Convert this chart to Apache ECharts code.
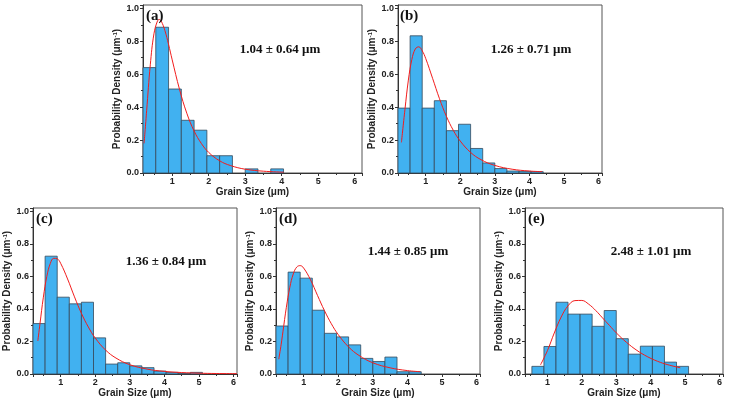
<!DOCTYPE html>
<html>
<head>
<meta charset="utf-8">
<script src="https://cdn.jsdelivr.net/npm/echarts@6/dist/echarts.min.js"></script>
<style>
  html, body { margin: 0; padding: 0; background: #fff; }
  #chart { width: 734px; height: 402px; }
</style>
</head>
<body>
<div id="chart"></div>
<script>
// histogram bins: width and first left edge of each panel (μm)
const binWidth = 0.35
const binStarts = [0.2, 0.2, 0.2, 0.2, 0.55]

// probability density of each bin
const densityA = [0.64, 0.885, 0.51, 0.32, 0.26, 0.105, 0.105, 0, 0.025, 0, 0.025]
const densityB = [0.394, 0.833, 0.394, 0.439, 0.257, 0.296, 0.149, 0.061, 0.027, 0.012, 0.01, 0.008]
const densityC = [0.31, 0.724, 0.472, 0.431, 0.441, 0.222, 0.061, 0.069, 0.05, 0.039, 0.018, 0.01, 0.004, 0.01]
const densityD = [0.295, 0.626, 0.589, 0.392, 0.25, 0.228, 0.179, 0.096, 0.077, 0.104, 0.014, 0.014]
const densityE = [0.047, 0.169, 0.441, 0.368, 0.368, 0.293, 0.39, 0.217, 0.122, 0.171, 0.171, 0.073, 0.047]

// fitted curves
const fitXA = [0.23, 0.3, 0.4, 0.5, 0.6, 0.65, 0.7, 0.8, 0.9, 1.0, 1.2, 1.4, 1.6, 1.8, 2.0, 2.3, 2.6, 3.0, 3.5, 4.05]
const fitYA = [0.18, 0.378, 0.657, 0.845, 0.925, 0.932, 0.922, 0.865, 0.781, 0.687, 0.508, 0.363, 0.255, 0.179, 0.125, 0.074, 0.045, 0.023, 0.011, 0.005]
const fitXB = [0.3, 0.4, 0.5, 0.6, 0.7, 0.8, 0.9, 1.0, 1.2, 1.4, 1.6, 1.8, 2.0, 2.3, 2.6, 3.0, 3.5, 4.0, 4.37]
const fitYB = [0.186, 0.384, 0.564, 0.689, 0.753, 0.766, 0.742, 0.696, 0.575, 0.451, 0.344, 0.259, 0.194, 0.125, 0.081, 0.046, 0.023, 0.012, 0.008]
const fitXC = [0.34, 0.4, 0.5, 0.6, 0.7, 0.8, 0.9, 1.0, 1.2, 1.4, 1.6, 1.8, 2.0, 2.3, 2.6, 3.0, 3.5, 4.0, 4.5, 5.0, 5.5, 6.1]
const fitYC = [0.203, 0.306, 0.472, 0.6, 0.679, 0.711, 0.708, 0.68, 0.584, 0.474, 0.373, 0.289, 0.221, 0.147, 0.098, 0.057, 0.03, 0.016, 0.009, 0.005, 0.003, 0.002]
const fitXD = [0.28, 0.35, 0.4, 0.5, 0.6, 0.7, 0.8, 0.9, 1.0, 1.2, 1.4, 1.6, 1.8, 2.0, 2.3, 2.6, 3.0, 3.5, 4.0, 4.37]
const fitYD = [0.091, 0.183, 0.259, 0.41, 0.533, 0.615, 0.657, 0.666, 0.651, 0.578, 0.483, 0.39, 0.309, 0.242, 0.166, 0.114, 0.069, 0.038, 0.021, 0.014]
const fitXE = [0.8, 1.0, 1.2, 1.4, 1.6, 1.8, 2.0, 2.2, 2.4, 2.6, 2.8, 3.0, 3.3, 3.6, 3.9, 4.2, 4.5, 4.86]
const fitYE = [0.056, 0.143, 0.252, 0.35, 0.419, 0.451, 0.452, 0.429, 0.391, 0.345, 0.299, 0.253, 0.194, 0.145, 0.107, 0.078, 0.057, 0.038]

const panelLabels = ['(a)', '(b)', '(c)', '(d)', '(e)']
const sizeLabels = ['1.04 ± 0.64 μm', '1.26 ± 0.71 μm', '1.36 ± 0.84 μm', '1.44 ± 0.85 μm', '2.48 ± 1.01 μm']

const densities = [densityA, densityB, densityC, densityD, densityE]
const fitX = [fitXA, fitXB, fitXC, fitXD, fitXE]
const fitY = [fitYA, fitYB, fitYC, fitYD, fitYE]

// layout of the five frames
const grids = [
  { left: 143, top: 5, width: 219, height: 168 },
  { left: 398, top: 5, width: 204, height: 168 },
  { left: 33, top: 208, width: 204, height: 166 },
  { left: 276, top: 208, width: 204, height: 166 },
  { left: 525, top: 208, width: 198, height: 166 }
]
const xRanges = [[0.2, 6.2], [0.2, 6.1], [0.2, 6.1], [0.2, 6.1], [0.35, 6.1]]
const panelLabelPos = [[146, 16], [400, 16], [36, 219], [279, 219], [528, 219]]
const sizeLabelPos = [[280, 50], [531, 50], [166, 262], [408, 252], [651, 252]]

const sans = 'Liberation Sans'
const serif = 'Liberation Serif'
const barFill = '#41b1f0'
const barEdge = '#35495a'

const chart = echarts.init(document.getElementById('chart'), null, { renderer: 'canvas' })

const xAxes = []
const yAxes = []
const series = []
const graphics = []

for (let i = 0; i < 5; i++) {
  xAxes.push({
    gridIndex: i,
    type: 'value',
    min: xRanges[i][0],
    max: xRanges[i][1],
    splitNumber: 6,
    splitLine: { show: false },
    axisLine: { lineStyle: { color: '#333', width: 1 } },
    axisTick: { length: 3, lineStyle: { color: '#333' } },
    minorTick: { show: true, splitNumber: 2, length: 2, lineStyle: { color: '#333' } },
    axisLabel: {
      showMinLabel: false,
      showMaxLabel: false,
      margin: 4,
      color: '#222',
      fontSize: 9,
      fontWeight: 'bold',
      fontFamily: sans
    },
    name: 'Grain Size (μm)',
    nameLocation: 'middle',
    nameGap: 14,
    nameTextStyle: { color: '#222', fontSize: 10, fontWeight: 'bold', fontFamily: sans }
  })
  yAxes.push({
    gridIndex: i,
    type: 'value',
    min: 0,
    max: 1.02,
    interval: 0.2,
    splitLine: { show: false },
    axisLine: { show: true, lineStyle: { color: '#333', width: 1 } },
    axisTick: { show: true, length: 3, lineStyle: { color: '#333' } },
    minorTick: { show: true, splitNumber: 2, length: 2, lineStyle: { color: '#333' } },
    axisLabel: {
      showMaxLabel: false,
      margin: 4,
      color: '#222',
      fontSize: 9,
      fontWeight: 'bold',
      fontFamily: sans,
      formatter: v => v.toFixed(1)
    },
    name: 'Probability Density (μm{sup|-1})',
    nameLocation: 'middle',
    nameGap: 19,
    nameTextStyle: {
      color: '#222',
      fontSize: 10,
      fontWeight: 'bold',
      fontFamily: sans,
      rich: {
        sup: { fontSize: 6, fontWeight: 'bold', fontFamily: sans, color: '#222', verticalAlign: 'top', lineHeight: 10 }
      }
    }
  })

  const bins = densities[i].map((d, k) => [
    +(binStarts[i] + k * binWidth).toFixed(3),
    +(binStarts[i] + (k + 1) * binWidth).toFixed(3),
    d
  ])
  series.push({
    type: 'custom',
    xAxisIndex: i,
    yAxisIndex: i,
    data: bins,
    encode: { x: [0, 1], y: 2 },
    renderItem: (params, api) => {
      const h = api.value(2)
      if (!h) return
      const p0 = api.coord([api.value(0), h])
      const p1 = api.coord([api.value(1), 0])
      return {
        type: 'rect',
        shape: { x: p0[0], y: p0[1], width: p1[0] - p0[0], height: p1[1] - p0[1] },
        style: { fill: barFill, stroke: barEdge, lineWidth: 0.8 }
      }
    }
  })
  series.push({
    type: 'line',
    xAxisIndex: i,
    yAxisIndex: i,
    data: fitX[i].map((x, k) => [x, fitY[i][k]]),
    smooth: 0.4,
    showSymbol: false,
    symbol: 'none',
    lineStyle: { color: '#f21c1c', width: 1 },
    z: 5
  })

  graphics.push({
    type: 'text',
    x: panelLabelPos[i][0],
    y: panelLabelPos[i][1],
    style: {
      text: panelLabels[i],
      fill: '#111',
      font: 'bold 15px "' + serif + '"',
      textAlign: 'left',
      textVerticalAlign: 'middle'
    },
    z: 10
  })
  graphics.push({
    type: 'text',
    x: sizeLabelPos[i][0],
    y: sizeLabelPos[i][1],
    style: {
      text: sizeLabels[i],
      fill: '#111',
      font: 'bold 13px "' + serif + '"',
      textAlign: 'center',
      textVerticalAlign: 'middle'
    },
    z: 10
  })
}

chart.setOption({
  animation: false,
  backgroundColor: '#fff',
  grid: grids.map(g => Object.assign({ show: true, borderColor: '#555', borderWidth: 1, containLabel: false }, g)),
  xAxis: xAxes,
  yAxis: yAxes,
  series: series,
  graphic: graphics
})
</script>
</body>
</html>
